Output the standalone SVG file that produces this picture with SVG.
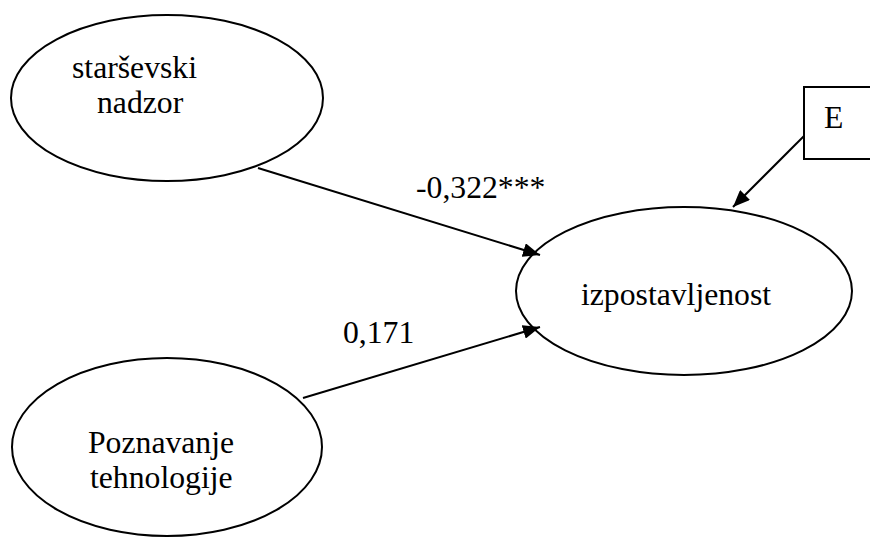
<svg xmlns="http://www.w3.org/2000/svg" width="870" height="539" viewBox="0 0 870 539">
<style>
.node{fill:#fff;stroke:#000;stroke-width:2}
.lbl{font-family:'Liberation Serif','Times New Roman',serif;font-size:31.7px;fill:#000}
.edge{fill:none;stroke:#000;stroke-width:2}
</style>
<defs>
<marker id="ah" markerUnits="userSpaceOnUse" markerWidth="18" markerHeight="14" refX="17" refY="7" orient="auto">
<path d="M0,0 L17,7 L0,14 Z" fill="#000"/>
</marker>
</defs>
<rect width="870" height="539" fill="#fff"/>
<g id="n-starsevski">
<ellipse class="node" cx="167" cy="98" rx="156" ry="83"/>
<text class="lbl" x="72" y="78">starševski</text>
<text class="lbl" x="97" y="113">nadzor</text>
</g>
<g id="n-poznavanje">
<ellipse class="node" cx="167" cy="447" rx="155" ry="89"/>
<text class="lbl" x="88" y="453">Poznavanje</text>
<text class="lbl" x="90" y="488">tehnologije</text>
</g>
<g id="n-izpostavljenost">
<ellipse class="node" cx="684" cy="291" rx="168" ry="84"/>
<text class="lbl" x="581" y="305">izpostavljenost</text>
</g>
<g id="n-E">
<rect class="node" x="804" y="87" width="80" height="72"/>
<text class="lbl" x="824" y="128">E</text>
</g>
<g id="connectors">
<path class="edge" d="M258,168 L540,255" marker-end="url(#ah)"/>
<path class="edge" d="M303,398 L540,327" marker-end="url(#ah)"/>
<path class="edge" d="M804,136 L733,207" marker-end="url(#ah)"/>
<text class="lbl" x="416" y="198">-0,322***</text>
<text class="lbl" x="343" y="343">0,171</text>
</g>
</svg>
